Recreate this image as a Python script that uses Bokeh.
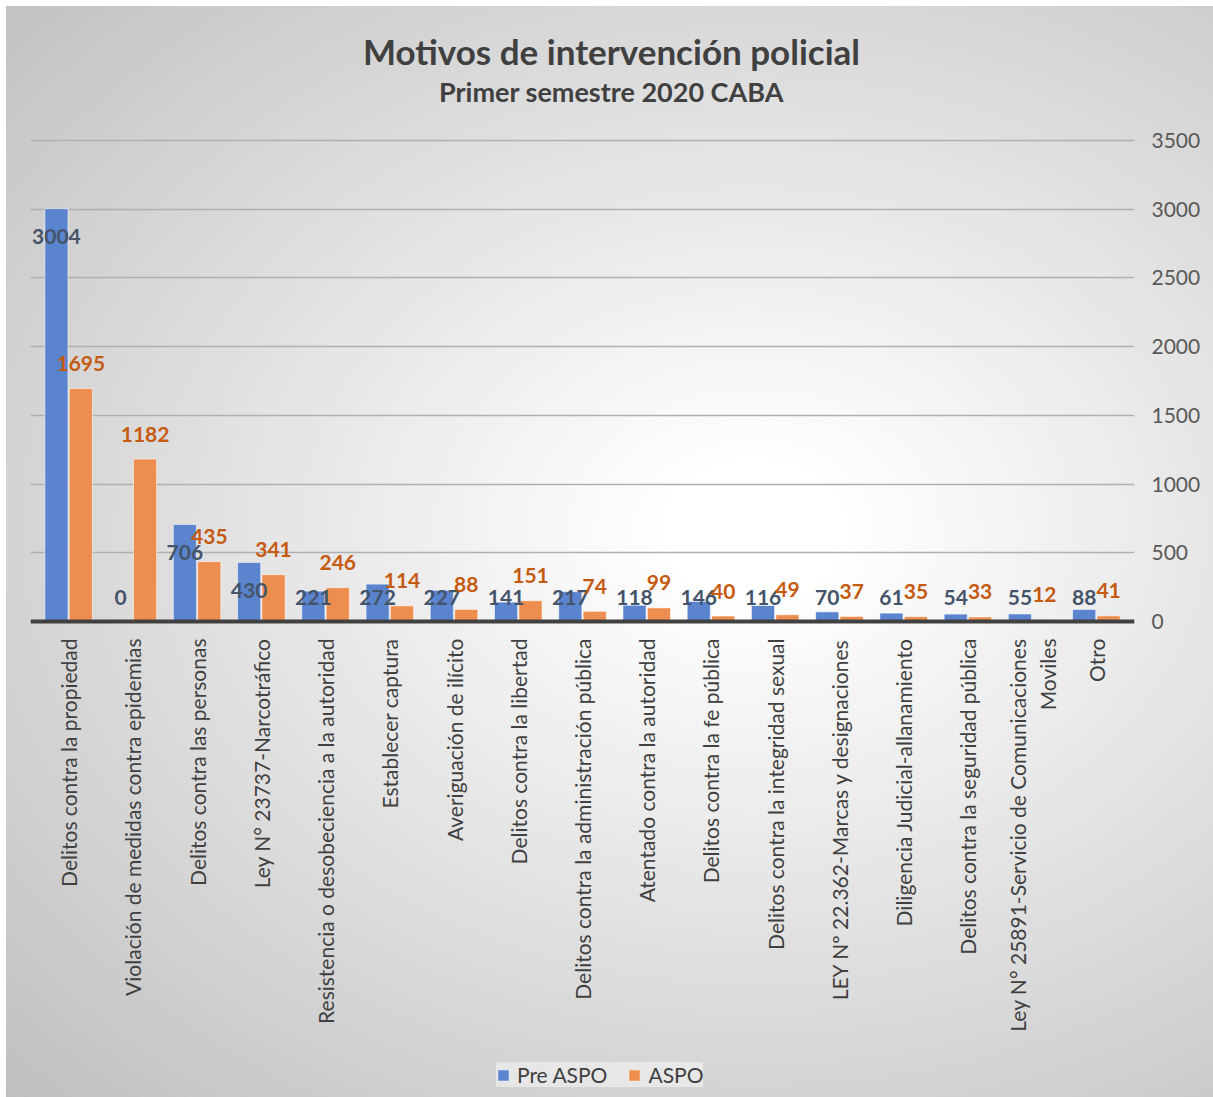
import math
from bokeh.plotting import figure
from bokeh.models import (Range1d, FactorRange, FixedTicker, LinearAxis,
                          Legend, LegendItem, Label, ColumnDataSource)
from bokeh.transform import dodge
from bokeh.core.properties import value
from bokeh.embed import file_html
from bokeh.resources import INLINE
import numpy as np

categories = [
    "Delitos contra la propiedad",
    "Violación de medidas contra epidemias",
    "Delitos contra las personas",
    "Ley N° 23737-Narcotráfico",
    "Resistencia o desobeciencia a la autoridad",
    "Establecer captura",
    "Averiguación de ilícito",
    "Delitos contra la libertad",
    "Delitos contra la administración pública",
    "Atentado contra la autoridad",
    "Delitos contra la fe pública",
    "Delitos contra la integridad sexual",
    "LEY Nº 22.362-Marcas y designaciones",
    "Diligencia Judicial-allanamiento",
    "Delitos contra la seguridad pública",
    "Ley N° 25891-Servicio de Comunicaciones\nMoviles",
    "Otro",
]
pre_aspo = [3004, 0, 706, 430, 221, 272, 227, 141, 217, 118, 146, 116, 70, 61, 54, 55, 88]
aspo = [1695, 1182, 435, 341, 246, 114, 88, 151, 74, 99, 40, 49, 37, 35, 33, 12, 41]
y_ticks = [0, 500, 1000, 1500, 2000, 2500, 3000, 3500]
title_text = "Motivos de intervención policial"
subtitle_text = "Primer semestre 2020 CABA"

FONT = "Lato"
BLUE = "#5b84cf"
ORANGE = "#ee8e4e"

pre_arr = np.array(pre_aspo, dtype=float)

src = ColumnDataSource(dict(
    cat=categories,
    pre=pre_aspo,
    aspo=aspo,
    pre_lab=[str(v) for v in pre_aspo],
    aspo_lab=[str(v) for v in aspo],
    pre_lab_y=list(np.maximum(pre_arr, 378.0)),
))

# layout: value axis (0..3500) takes 481 px; the frame spans the whole figure height,
# holding titles above and category labels + legend below the zero line
AXIS_PX = 481
ABOVE_PX = 615      # frame px above the zero line
BELOW_PX = 476      # frame px below the zero line
FH = ABOVE_PX + BELOW_PX
FW = 1104
y_top = y_ticks[-1] * ABOVE_PX / AXIS_PX
y_bot = -y_ticks[-1] * BELOW_PX / AXIS_PX

p = figure(
    frame_width=FW, frame_height=FH,
    x_range=FactorRange(*categories, range_padding=0.0935, range_padding_units="absolute"),
    y_range=Range1d(y_bot, y_top),
    output_backend="svg", toolbar_location=None,
    title=None,
    min_border_left=24, min_border_right=79,
    min_border_top=0, min_border_bottom=0,
)
p.styles = {
    "margin-left": "6px", "margin-top": "6px",
    "background-image": "radial-gradient(farthest-corner at 62% 48%, #ffffff 0%, #ffffff 8%, #bfbfbf 100%)",
}
p.background_fill_alpha = 0
p.border_fill_alpha = 0
p.outline_line_color = None

# bars
r_pre = p.vbar(x=dodge("cat", -0.19, range=p.x_range), top="pre", bottom=0, width=0.36, source=src,
               fill_color=BLUE, line_color="#ffffff", line_alpha=0.55, line_width=1)
r_aspo = p.vbar(x=dodge("cat", 0.19, range=p.x_range), top="aspo", bottom=0, width=0.36, source=src,
                fill_color=ORANGE, line_color="#ffffff", line_alpha=0.55, line_width=1)

# data labels
p.text(x=dodge("cat", -0.19, range=p.x_range), y="pre_lab_y", text="pre_lab", source=src,
       text_align="center", text_baseline="middle", y_offset=28,
       text_font=value(FONT), text_font_style="bold", text_font_size="21px",
       text_color="#44546a")
p.text(x=dodge("cat", 0.19, range=p.x_range), y="aspo", text="aspo_lab", source=src,
       text_align="center", text_baseline="middle", y_offset=-25,
       text_font=value(FONT), text_font_style="bold", text_font_size="21px",
       text_color="#c55a11")

# axes
p.yaxis.visible = False
ry = LinearAxis(ticker=FixedTicker(ticks=y_ticks))
ry.axis_line_color = None
ry.major_tick_line_color = None
ry.minor_tick_line_color = None
ry.major_tick_out = 0
ry.major_tick_in = 0
ry.major_label_standoff = 17
ry.major_label_text_font = FONT
ry.major_label_text_font_size = "21px"
ry.major_label_text_color = "#595959"
p.add_layout(ry, "right")

xa = p.xaxis[0]
xa.fixed_location = 0
xa.major_label_orientation = math.pi / 2
xa.major_tick_line_color = None
xa.minor_tick_line_color = None
xa.major_tick_out = 0
xa.major_tick_in = 0
xa.axis_line_color = "#404040"
xa.axis_line_width = 4
xa.major_label_standoff = 17
xa.major_label_text_font = FONT
xa.major_label_text_font_size = "21px"
xa.major_label_text_color = "#404040"

p.xgrid.grid_line_color = None
p.ygrid.ticker = FixedTicker(ticks=y_ticks)
p.ygrid.grid_line_color = "#b0b0b0"
p.ygrid.grid_line_width = 1.5

# titles (screen px from the frame's bottom-left corner)
p.add_layout(Label(x=581, y=FH - 44, x_units="screen", y_units="screen", text=title_text,
                   text_align="center", text_baseline="middle",
                   text_font=FONT, text_font_style="bold", text_font_size="35px",
                   text_color="#404040"))
p.add_layout(Label(x=581, y=FH - 85, x_units="screen", y_units="screen", text=subtitle_text,
                   text_align="center", text_baseline="middle",
                   text_font=FONT, text_font_style="bold", text_font_size="27px",
                   text_color="#404040"))

# legend
legend = Legend(items=[LegendItem(label="Pre ASPO", renderers=[r_pre]),
                       LegendItem(label="ASPO", renderers=[r_aspo])],
                orientation="horizontal", location=(466, 10),
                label_text_font=FONT, label_text_font_size="21px", label_text_color="#404040",
                glyph_width=14, glyph_height=14, label_standoff=7, spacing=20,
                padding=11, margin=0,
                background_fill_color="#f3f3f3", background_fill_alpha=0.6,
                border_line_color=None)
legend.label_height = 24
legend.label_width = 50
p.add_layout(legend, "center")

open("out.html", "w").write(file_html(p, INLINE))
